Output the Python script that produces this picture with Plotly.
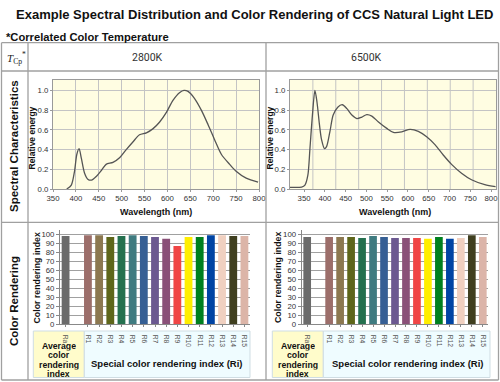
import plotly.graph_objects as go

W, H = 500, 382

# ---------------- data ----------------
wl_2800 = [380, 390, 397, 402, 407, 412, 419, 426, 434, 445, 456, 466, 481, 496, 510, 525, 539, 554, 568,
           583, 598, 612, 627, 636, 645, 659, 674, 689, 703, 718, 736, 750, 772, 798]
e_2800 = [0.0, 0.04, 0.18, 0.35, 0.41, 0.31, 0.16, 0.10, 0.09, 0.13, 0.19, 0.25, 0.27, 0.32, 0.40, 0.48, 0.55,
          0.57, 0.61, 0.68, 0.78, 0.90, 0.98, 1.0, 0.99, 0.92, 0.80, 0.65, 0.50, 0.35, 0.25, 0.18, 0.11, 0.07]

wl_6500 = [316, 344, 352, 359, 364, 370, 376, 381, 387, 392, 399, 404, 412, 420, 431, 442, 453, 465, 477, 489,
           501, 513, 529, 549, 565, 585, 605, 625, 645, 665, 685, 705, 729, 753, 785, 811]
e_6500 = [0.017, 0.02, 0.04, 0.14, 0.41, 0.75, 1.0, 0.88, 0.65, 0.50, 0.41, 0.43, 0.58, 0.75, 0.83, 0.855,
          0.815, 0.75, 0.715, 0.73, 0.755, 0.74, 0.68, 0.615, 0.575, 0.58, 0.605, 0.585, 0.53, 0.45, 0.345,
          0.25, 0.16, 0.094, 0.044, 0.023]

wl_ticks = [350, 400, 450, 500, 550, 600, 650, 700, 750, 800]
energy_ticks = [0.0, 0.2, 0.4, 0.6, 0.8, 1.0]

cri_labels = ["Ra", "R1", "R2", "R3", "R4", "R5", "R6", "R7", "R8", "R9", "R10", "R11", "R12", "R13", "R14", "R15"]
cri_2800 = [98, 99, 99, 97, 98, 99, 98, 97, 95, 87, 97, 97, 99, 99, 98, 98]
cri_6500 = [97, 97, 97, 97, 96, 98, 97, 96, 96, 96, 95, 97, 95, 96, 99, 97]
cri_colors = ["#6b6b6b", "#9c6e6a", "#8c7850", "#5e661a", "#24704e", "#3f7b80", "#365f94", "#6b5890",
              "#8a5078", "#f04545", "#ffee00", "#00801f", "#0044a4", "#f0d0c0", "#3f3f1f", "#dcb5a8"]
cri_ticks = list(range(0, 101, 10))

# ---------------- helpers ----------------
def fx(x):
    return x / W


def fy(y):
    return 1 - y / H


# Ra in the first slot, one empty slot, then R1..R15
cri_pos = [0] + [i + 1 for i in range(1, len(cri_labels))]

GRID = "#c4c4c4"
FRAME = "#9a9a9a"
TBL = "#a0a0a0"
SANS = "Liberation Sans, Arial"
TICKFONT = dict(family=SANS, size=7.8, color="#333333")

fig = go.Figure()

fig.add_trace(go.Scatter(x=wl_2800, y=e_2800, mode="lines", line=dict(color="#555555", width=1.3, shape="spline", smoothing=0.8),
                         xaxis="x", yaxis="y", showlegend=False, hoverinfo="skip"))
fig.add_trace(go.Scatter(x=wl_6500, y=e_6500, mode="lines", line=dict(color="#555555", width=1.3, shape="spline", smoothing=0.8),
                         xaxis="x2", yaxis="y2", showlegend=False, hoverinfo="skip"))
fig.add_trace(go.Bar(x=cri_pos, y=cri_2800, marker=dict(color=cri_colors, line=dict(width=0)), width=0.7,
                     xaxis="x3", yaxis="y3", showlegend=False, hoverinfo="skip"))
fig.add_trace(go.Bar(x=cri_pos, y=cri_6500, marker=dict(color=cri_colors, line=dict(width=0)), width=0.7,
                     xaxis="x4", yaxis="y4", showlegend=False, hoverinfo="skip"))

spec_y_dom = [fy(189), fy(79.5)]
bar_y_dom = [fy(324.3), fy(230)]

common_spec_x = dict(tickvals=wl_ticks, ticks="outside", ticklen=2, tickcolor=FRAME, tickfont=TICKFONT,
                     showline=True, mirror=True, linecolor=FRAME, linewidth=1, zeroline=False, automargin=False,
                     fixedrange=True)
common_spec_y = dict(range=[0, 1.111], tickvals=energy_ticks, ticktext=["%.1f" % v for v in energy_ticks],
                     ticks="outside", ticklen=2, tickcolor=FRAME, tickfont=TICKFONT, showgrid=True, gridcolor=GRID,
                     gridwidth=1, showline=True, mirror=True, linecolor=FRAME, linewidth=1, zeroline=False,
                     automargin=False, fixedrange=True)
common_bar_x = dict(range=[-0.5, 16.5], tickvals=cri_pos, ticktext=cri_labels, tickangle=90,
                    tickfont=dict(family=SANS, size=6.8, color="#555555"), ticks="outside", ticklen=2,
                    ticklabelstandoff=6,
                    tickcolor="#888888", showline=True, linecolor="#888888", linewidth=1, showgrid=False,
                    zeroline=False, automargin=False, fixedrange=True)
common_bar_y = dict(range=[0, 104.8], tickvals=cri_ticks, ticks="outside", ticklen=3, tickcolor="#888888",
                    tickfont=TICKFONT, showgrid=True, gridcolor="#a0a0a0", gridwidth=1, showline=True,
                    linecolor="#888888", linewidth=1, zeroline=False, automargin=False, fixedrange=True)

fig.update_layout(
    width=W, height=H, autosize=False,
    margin=dict(l=0, r=0, t=0, b=0),
    paper_bgcolor="white", plot_bgcolor="#fffde2",
    bargap=0.3,
    xaxis=dict(domain=[fx(53), fx(259)], range=[350, 800], anchor="y", showgrid=True, gridcolor=GRID, **common_spec_x),
    yaxis=dict(domain=spec_y_dom, anchor="x", **common_spec_y),
    xaxis2=dict(domain=[fx(290), fx(496)], range=[316, 812], anchor="y2", showgrid=False, **common_spec_x),
    yaxis2=dict(domain=spec_y_dom, anchor="x2", **common_spec_y),
    xaxis3=dict(domain=[fx(60), fx(250)], anchor="y3", **common_bar_x),
    yaxis3=dict(domain=bar_y_dom, anchor="x3", **common_bar_y),
    xaxis4=dict(domain=[fx(301.7), fx(488.3)], anchor="y4", **common_bar_x),
    yaxis4=dict(domain=bar_y_dom, anchor="x4", **common_bar_y),
)

shapes = []
# bar chart plot areas are white
for xa, ya in (("x3", "y3"), ("x4", "y4")):
    shapes.append(dict(type="rect", xref=xa + " domain", yref=ya + " domain", x0=0, x1=1, y0=0, y1=1,
                       fillcolor="white", line=dict(width=0), layer="below"))
# vertical grid of right spectral chart (9 equal divisions)
for k in range(1, 9):
    shapes.append(dict(type="line", xref="x2 domain", yref="y2 domain", x0=k / 9, x1=k / 9, y0=0, y1=1,
                       line=dict(color=GRID, width=1), layer="below"))


def hline(y, x0=1.5, x1=498.5):
    shapes.append(dict(type="line", xref="paper", yref="paper", x0=fx(x0), x1=fx(x1), y0=fy(y), y1=fy(y),
                       line=dict(color=TBL, width=1.3)))


def vline(x, y0=42.7, y1=380):
    shapes.append(dict(type="line", xref="paper", yref="paper", x0=fx(x), x1=fx(x), y0=fy(y0), y1=fy(y1),
                       line=dict(color=TBL, width=1.3)))


for yy in (42.7, 71, 222.3, 380):
    hline(yy)
for xx in (1.5, 28, 266, 498.5):
    vline(xx)

# index boxes under the bar charts (drawn beneath the tick labels)
for (ya0, ya1, cx1) in ((33.3, 84.3, 250), (272.3, 323.3, 490)):
    shapes.append(dict(type="rect", xref="paper", yref="paper", x0=fx(ya0), x1=fx(ya1), y0=fy(377.5), y1=fy(331),
                       fillcolor="#fffccb", line=dict(color="#cfdde3", width=1), layer="below"))
    shapes.append(dict(type="rect", xref="paper", yref="paper", x0=fx(ya1), x1=fx(cx1), y0=fy(377.5), y1=fy(331),
                       fillcolor="#effcff", line=dict(color="#cfdde3", width=1), layer="below"))
fig.update_layout(shapes=shapes)

ann = []


def text(x, y, s, size, family=SANS, color="#111111", angle=0, xanchor="center", height=None):
    a = dict(x=fx(x), y=fy(y), xref="paper", yref="paper", text=s, showarrow=False, textangle=angle,
             xanchor=xanchor, yanchor="middle", font=dict(family=family, size=size, color=color))
    if height is not None:
        a["height"] = height
        a["borderpad"] = 0
    ann.append(a)


text(254, 15, "<b>Example Spectral Distribution and Color Rendering of CCS Natural Light LED</b>", 13)
text(4, 37, "<b>*Correlated Color Temperature</b>", 11.2, xanchor="left")
text(16, 58, "<i>T</i><sub>Cp</sub><sup>*</sup>", 11, family="Liberation Serif", color="#222222")
text(147.5, 57, "2800K", 10.5, family="Roboto", color="#333333")
text(366, 57, "6500K", 10.5, family="Roboto", color="#333333")
text(14, 146, "<b>Spectral Characteristics</b>", 11.5, angle=-90)
text(14, 301, "<b>Color Rendering</b>", 11.5, angle=-90)

for cx in (156, 395):
    text(cx, 212, "<b>Wavelength (nm)</b>", 9)
for cx in (32, 270):
    text(cx, 138.5, "<b>Relative energy</b>", 8.5, angle=-90)
for cx in (36, 277.5):
    text(cx, 277.5, "<b>Color rendering index</b>", 8.8, angle=-90)

for cx in (58.8, 297.8):
    for yy, word in zip((345, 354.6, 364.2, 373.8), ("Average", "color", "rendering", "index")):
        text(cx, yy, "<b>%s</b>" % word, 8.7, height=9.4)
for cx in (167, 408):
    text(cx, 363, "<b>Special color rendering index (Ri)</b>", 9.5)

fig.update_layout(annotations=ann)

fig.write_html("out.html", config={"displayModeBar": False},
               post_script="document.body.style.margin='0';document.body.style.padding='0';")
